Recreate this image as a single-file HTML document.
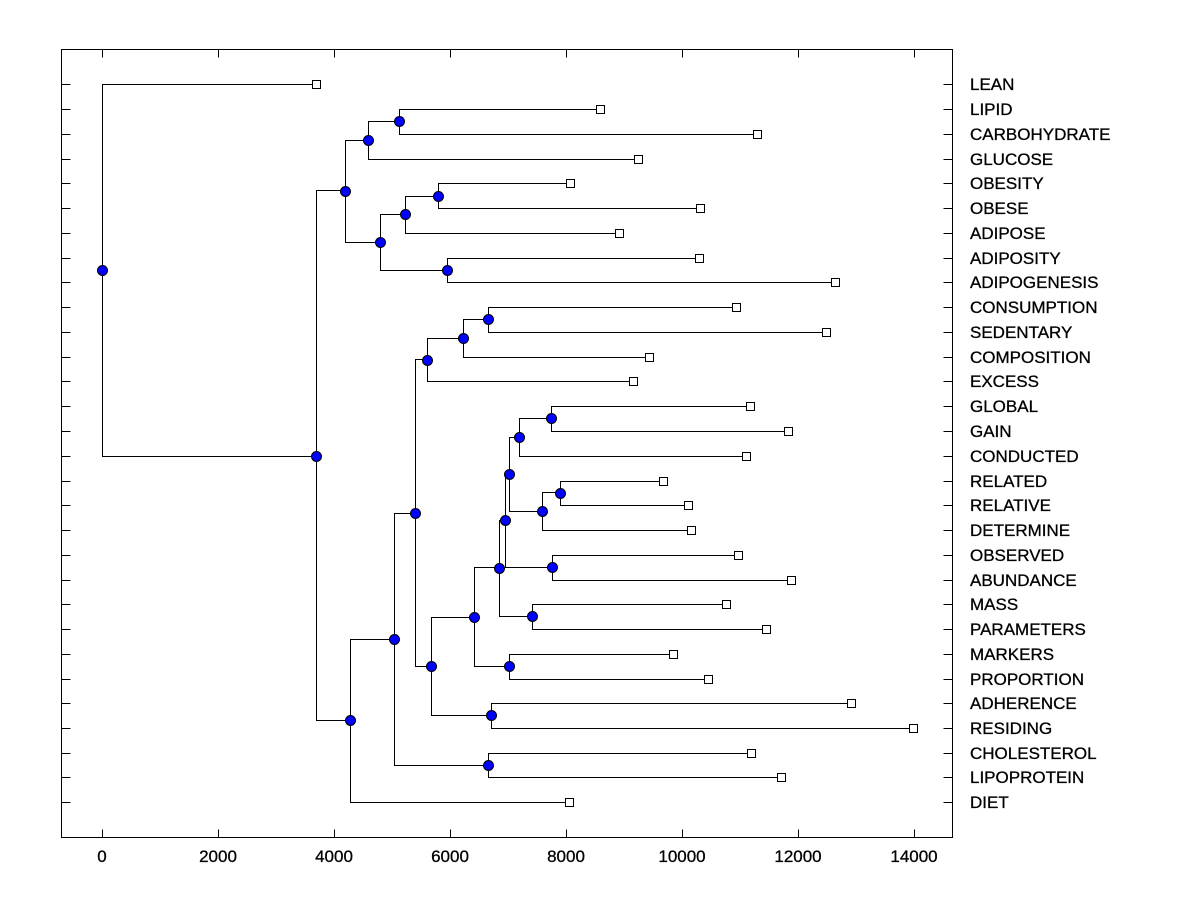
<!DOCTYPE html>
<html><head><meta charset="utf-8"><style>
html,body{margin:0;padding:0;background:#fff;}
svg{display:block;}
text{font-family:"Liberation Sans",Arial,sans-serif;font-size:17px;fill:#000;stroke:#000;stroke-width:0.3px;}
</style></head><body>
<svg width="1200" height="900" viewBox="0 0 1200 900" xmlns="http://www.w3.org/2000/svg">
<rect x="0" y="0" width="1200" height="900" fill="#fff"/>
<rect x="61.5" y="49.5" width="891" height="788" fill="none" stroke="#000" stroke-width="1"/>
<g stroke="#000" stroke-width="1" fill="none" transform="translate(0.5,0.5)">
<path d="M102 49v8M218 49v8M334 49v8M450 49v8M566 49v8M682 49v8M798 49v8M914 49v8M102 837v-8M218 837v-8M334 837v-8M450 837v-8M566 837v-8M682 837v-8M798 837v-8M914 837v-8"/>
<path d="M61 84h9M61 109h9M61 134h9M61 159h9M61 183h9M61 208h9M61 233h9M61 258h9M61 282h9M61 307h9M61 332h9M61 357h9M61 381h9M61 406h9M61 431h9M61 456h9M61 481h9M61 505h9M61 530h9M61 555h9M61 580h9M61 604h9M61 629h9M61 654h9M61 679h9M61 703h9M61 728h9M61 753h9M61 777h9M61 802h9"/>
<path d="M952 84h-9M952 109h-9M952 134h-9M952 159h-9M952 183h-9M952 208h-9M952 233h-9M952 258h-9M952 282h-9M952 307h-9M952 332h-9M952 357h-9M952 381h-9M952 406h-9M952 431h-9M952 456h-9M952 481h-9M952 505h-9M952 530h-9M952 555h-9M952 580h-9M952 604h-9M952 629h-9M952 654h-9M952 679h-9M952 703h-9M952 728h-9M952 753h-9M952 777h-9M952 802h-9"/>
<path d="M316 84H102V456H316"/>
<path d="M345 190H316V720H350"/>
<path d="M394 639H350V802H569"/>
<path d="M415 513H394V765H488"/>
<path d="M751 753H488V777H781"/>
<path d="M427 359H415V666H431"/>
<path d="M463 338H427V381H633"/>
<path d="M488 319H463V357H649"/>
<path d="M736 307H488V332H826"/>
<path d="M474 617H431V715H491"/>
<path d="M851 703H491V728H913"/>
<path d="M499 567H474V666H509"/>
<path d="M673 654H509V679H708"/>
<path d="M505 520H499V616H532"/>
<path d="M726 604H532V629H766"/>
<path d="M509 474H505V567H552"/>
<path d="M738 555H552V580H791"/>
<path d="M519 437H509V511H542"/>
<path d="M560 492H542V530H691"/>
<path d="M663 481H560V505H688"/>
<path d="M551 418H519V456H746"/>
<path d="M750 406H551V431H788"/>
<path d="M368 140H345V242H380"/>
<path d="M399 121H368V159H638"/>
<path d="M600 109H399V134H757"/>
<path d="M405 214H380V270H447"/>
<path d="M438 196H405V233H619"/>
<path d="M570 183H438V208H700"/>
<path d="M699 258H447V282H835"/>
</g>
<g fill="#fff" stroke="#000" stroke-width="1" transform="translate(-4,-4)">
<rect x="316.5" y="84.5" width="8" height="8"/>
<rect x="600.5" y="109.5" width="8" height="8"/>
<rect x="757.5" y="134.5" width="8" height="8"/>
<rect x="638.5" y="159.5" width="8" height="8"/>
<rect x="570.5" y="183.5" width="8" height="8"/>
<rect x="700.5" y="208.5" width="8" height="8"/>
<rect x="619.5" y="233.5" width="8" height="8"/>
<rect x="699.5" y="258.5" width="8" height="8"/>
<rect x="835.5" y="282.5" width="8" height="8"/>
<rect x="736.5" y="307.5" width="8" height="8"/>
<rect x="826.5" y="332.5" width="8" height="8"/>
<rect x="649.5" y="357.5" width="8" height="8"/>
<rect x="633.5" y="381.5" width="8" height="8"/>
<rect x="750.5" y="406.5" width="8" height="8"/>
<rect x="788.5" y="431.5" width="8" height="8"/>
<rect x="746.5" y="456.5" width="8" height="8"/>
<rect x="663.5" y="481.5" width="8" height="8"/>
<rect x="688.5" y="505.5" width="8" height="8"/>
<rect x="691.5" y="530.5" width="8" height="8"/>
<rect x="738.5" y="555.5" width="8" height="8"/>
<rect x="791.5" y="580.5" width="8" height="8"/>
<rect x="726.5" y="604.5" width="8" height="8"/>
<rect x="766.5" y="629.5" width="8" height="8"/>
<rect x="673.5" y="654.5" width="8" height="8"/>
<rect x="708.5" y="679.5" width="8" height="8"/>
<rect x="851.5" y="703.5" width="8" height="8"/>
<rect x="913.5" y="728.5" width="8" height="8"/>
<rect x="751.5" y="753.5" width="8" height="8"/>
<rect x="781.5" y="777.5" width="8" height="8"/>
<rect x="569.5" y="802.5" width="8" height="8"/>
</g>
<g fill="#0000ff" stroke="#000" stroke-width="1" transform="translate(0.5,0.5)">
<circle cx="102" cy="270" r="5"/>
<circle cx="316" cy="456" r="5"/>
<circle cx="350" cy="720" r="5"/>
<circle cx="394" cy="639" r="5"/>
<circle cx="488" cy="765" r="5"/>
<circle cx="415" cy="513" r="5"/>
<circle cx="427" cy="360" r="5"/>
<circle cx="463" cy="338" r="5"/>
<circle cx="488" cy="319" r="5"/>
<circle cx="431" cy="666" r="5"/>
<circle cx="491" cy="715" r="5"/>
<circle cx="474" cy="617" r="5"/>
<circle cx="509" cy="666" r="5"/>
<circle cx="499" cy="568" r="5"/>
<circle cx="532" cy="616" r="5"/>
<circle cx="505" cy="520" r="5"/>
<circle cx="552" cy="567" r="5"/>
<circle cx="509" cy="474" r="5"/>
<circle cx="542" cy="511" r="5"/>
<circle cx="560" cy="493" r="5"/>
<circle cx="519" cy="437" r="5"/>
<circle cx="551" cy="418" r="5"/>
<circle cx="345" cy="191" r="5"/>
<circle cx="368" cy="140" r="5"/>
<circle cx="399" cy="121" r="5"/>
<circle cx="380" cy="242" r="5"/>
<circle cx="405" cy="214" r="5"/>
<circle cx="438" cy="196" r="5"/>
<circle cx="447" cy="270" r="5"/>
</g>
<g text-anchor="middle">
<text x="102" y="862">0</text>
<text x="218" y="862">2000</text>
<text x="334" y="862">4000</text>
<text x="450" y="862">6000</text>
<text x="566" y="862">8000</text>
<text x="682" y="862">10000</text>
<text x="798" y="862">12000</text>
<text x="914" y="862">14000</text>
</g>
<g>
<text x="970" y="90">LEAN</text>
<text x="970" y="115">LIPID</text>
<text x="970" y="140">CARBOHYDRATE</text>
<text x="970" y="165">GLUCOSE</text>
<text x="970" y="189">OBESITY</text>
<text x="970" y="214">OBESE</text>
<text x="970" y="239">ADIPOSE</text>
<text x="970" y="264">ADIPOSITY</text>
<text x="970" y="288">ADIPOGENESIS</text>
<text x="970" y="313">CONSUMPTION</text>
<text x="970" y="338">SEDENTARY</text>
<text x="970" y="363">COMPOSITION</text>
<text x="970" y="387">EXCESS</text>
<text x="970" y="412">GLOBAL</text>
<text x="970" y="437">GAIN</text>
<text x="970" y="462">CONDUCTED</text>
<text x="970" y="487">RELATED</text>
<text x="970" y="511">RELATIVE</text>
<text x="970" y="536">DETERMINE</text>
<text x="970" y="561">OBSERVED</text>
<text x="970" y="586">ABUNDANCE</text>
<text x="970" y="610">MASS</text>
<text x="970" y="635">PARAMETERS</text>
<text x="970" y="660">MARKERS</text>
<text x="970" y="685">PROPORTION</text>
<text x="970" y="709">ADHERENCE</text>
<text x="970" y="734">RESIDING</text>
<text x="970" y="759">CHOLESTEROL</text>
<text x="970" y="783">LIPOPROTEIN</text>
<text x="970" y="808">DIET</text>
</g>
</svg>
</body></html>
